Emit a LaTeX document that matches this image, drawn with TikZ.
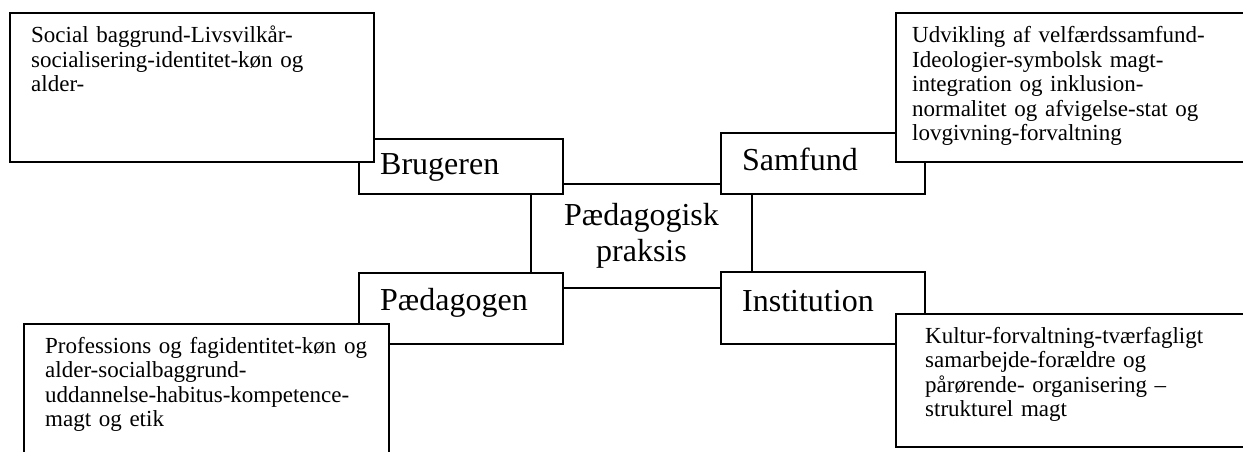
\documentclass[tikz,border=0pt]{standalone}
\usepackage{fontspec}
\setmainfont{Liberation Serif}
\begin{document}
\begin{tikzpicture}[x=1pt,y=-1pt,
    box/.style={draw,line width=1.6pt,fill=white,inner sep=0pt,anchor=north west},
    infotext/.style={anchor=base west,inner sep=0pt,text width=345pt,align=left,font=\fontsize{23}{24.5}\selectfont},
    labeltext/.style={anchor=base west,inner sep=0pt,font=\fontsize{32}{36}\selectfont}]
\useasboundingbox (0,0) rectangle (1243,452);
\clip (0,0) rectangle (1243,452);

% centre box
\node[box,anchor=center,minimum width=221pt,minimum height=104pt,align=center,
      font=\fontsize{32}{36}\selectfont] (praksis) at (641.5,236) {Pædagogisk\\praksis};

% the four corner boxes
\node[box,minimum width=204pt,minimum height=55pt] (brugeren) at (358,138) {};
\node[labeltext] (brugerenText) at ([shift={(22,36)}]brugeren.north west) {Brugeren};
\node[box,minimum width=204pt,minimum height=61pt] (samfund) at (720,132) {};
\node[labeltext] (samfundText) at ([shift={(22,38)}]samfund.north west) {Samfund};
\node[box,minimum width=204pt,minimum height=71pt] (paedagogen) at (358,272) {};
\node[labeltext] (paedagogenText) at ([shift={(22,38)}]paedagogen.north west) {Pædagogen};
\node[box,minimum width=204pt,minimum height=72pt] (institution) at (720,271) {};
\node[labeltext] (institutionText) at ([shift={(22,40)}]institution.north west) {Institution};

% info boxes on top, the right and bottom ones run off the page
\node[box,minimum width=364pt,minimum height=149pt] (brugerenInfo) at (9,12) {};
\node[infotext] (brugerenInfoText) at ([shift={(22,31)}]brugerenInfo.north west)
    {Social baggrund-Livsvilkår-\\socialisering-identitet-køn og\\alder-};
\node[box,minimum width=420pt,minimum height=149pt] (samfundInfo) at (895,12) {};
\node[infotext] (samfundInfoText) at ([shift={(17,31)}]samfundInfo.north west)
    {Udvikling af velfærdssamfund-\\Ideologier-symbolsk magt-\\integration og inklusion-\\normalitet og afvigelse-stat og\\lovgivning-forvaltning};
\node[box,minimum width=365pt,minimum height=200pt] (paedagogenInfo) at (23,323) {};
\node[infotext] (paedagogenInfoText) at ([shift={(22,30)}]paedagogenInfo.north west)
    {Professions og fagidentitet-køn og\\alder-socialbaggrund-\\uddannelse-habitus-kompetence-\\magt og etik};
\node[box,minimum width=420pt,minimum height=133pt] (institutionInfo) at (895,313) {};
\node[infotext] (institutionInfoText) at ([shift={(30,30)}]institutionInfo.north west)
    {Kultur-forvaltning-tværfagligt\\samarbejde-forældre og\\pårørende- organisering –\\strukturel magt};
\end{tikzpicture}
\end{document}
